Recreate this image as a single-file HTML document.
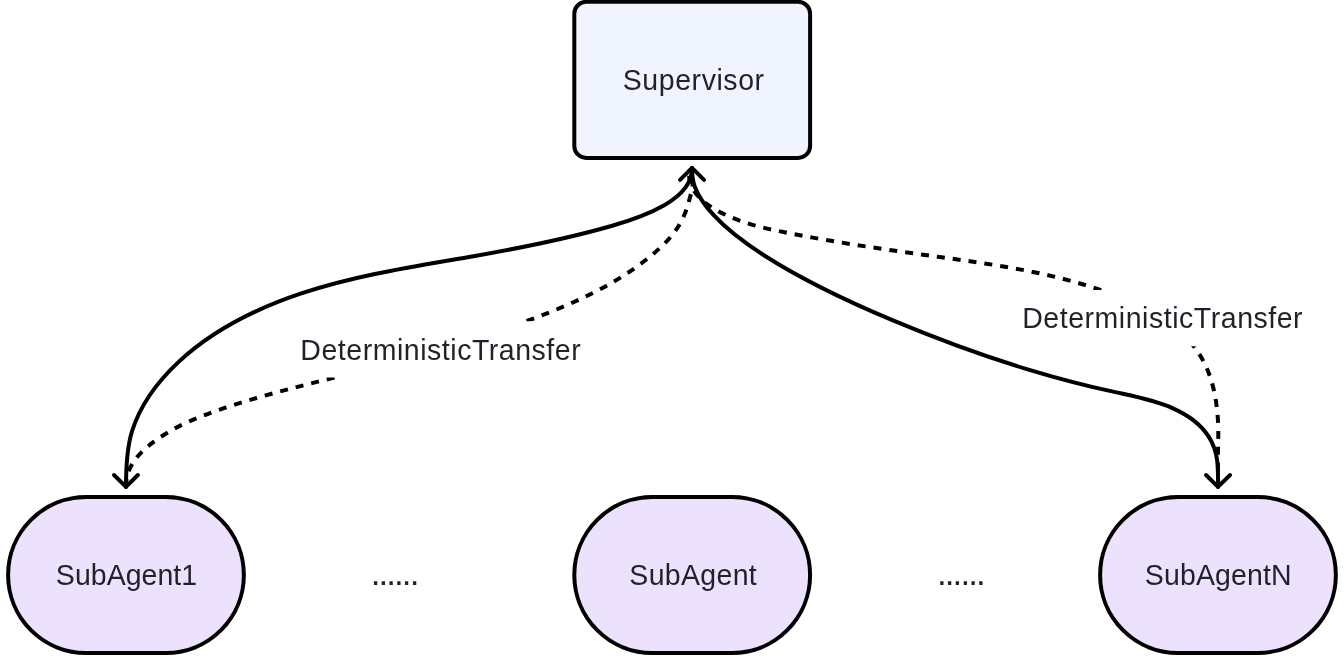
<!DOCTYPE html>
<html lang="en">
<head>
<meta charset="utf-8">
<title>Supervisor and SubAgents</title>
<style>
html,body{margin:0;padding:0;background:#fff;}
body{width:1344px;height:656px;overflow:hidden;position:relative;}
svg{position:absolute;left:0;top:0;display:block;will-change:transform;}
text{font-family:"Liberation Sans",sans-serif;font-size:28.5px;fill:#1f2329;text-anchor:middle;}
.dots{font-size:35px;letter-spacing:-1.95px;}
.ln{fill:none;stroke:#000;stroke-width:4;stroke-linecap:round;stroke-linejoin:round;}
.ds{fill:none;stroke:#000;stroke-width:4;stroke-dasharray:8 8;stroke-linecap:butt;}
.bx{stroke:#000;stroke-width:4;}
.sup{fill:#f0f4ff;}
.sub{fill:#ece2fe;}
.lbg{fill:#fff;}
</style>
</head>
<body>
<svg width="1344" height="656" viewBox="0 0 1344 656">
  <!-- dashed "DeterministicTransfer" connectors (SubAgent -> Supervisor) -->
  <g id="transfer-left">
    <path class="ds" style="stroke-dashoffset:0.06" d="M126.0 486.9 C125.7 466.7 139.0 452.8 153.9 441.7 C176.3 425.2 202.3 415.2 228.7 406.6 C272.6 392.3 317.5 381.9 362.1 370.6 C385.2 364.7 408.1 358.6 430.9 352.0"/>
    <path class="ds" style="stroke-dashoffset:11.38" d="M430.9 352.0 C463.4 342.7 495.7 332.4 527.6 320.7 C571.1 304.7 613.8 286.0 649.7 256.8 C664.1 245.2 677.4 231.8 684.5 214.6 C688.1 206.0 690.1 196.5 692.4 188.4 C693.0 182.3 692.0 177.0 692.0 167.9"/>
    <rect class="lbg" x="296" y="321.25" width="291" height="56.25"/>
    <rect class="lbg" x="338" y="375" width="14" height="4.5"/>
    <text transform="translate(440.75 360.1) scale(1 1.045)" style="letter-spacing:0.54px">DeterministicTransfer</text>
  </g>
  <g id="transfer-right">
    <path class="ds" style="stroke-dashoffset:15.99" d="M1218.0 486.9 C1218.4 480.3 1218.0 472.8 1217.9 465.6 C1217.7 453.7 1218.4 442.5 1218.3 430.9 C1218.0 407.6 1214.4 382.3 1203.9 362.1 C1193.2 341.4 1175.5 325.9 1154.7 313.8"/>
    <path class="ds" style="stroke-dashoffset:5.42" d="M1154.7 313.8 C1140.8 305.7 1125.5 299.0 1110.1 293.4 C1053.8 272.6 996.0 264.8 937.9 256.8 C886.8 249.7 835.5 242.5 784.8 232.3 C761.8 227.7 739.0 222.4 718.1 211.0 C707.7 205.4 697.8 198.2 692.3 188.0 C689.1 181.8 687.4 174.6 692.0 167.9"/>
    <rect class="lbg" x="1018" y="290" width="291" height="56.25"/>
    <text transform="translate(1162.7 327.6) scale(1 1.045)" style="letter-spacing:0.54px">DeterministicTransfer</text>
  </g>
  <!-- solid double-headed connectors (Supervisor <-> SubAgent) -->
  <g id="link-left">
    <path class="ln" d="M692.0 167.9 C692.0 175.1 689.5 182.0 685.4 187.7 C679.9 195.2 672.1 200.8 663.8 205.5 C647.4 214.9 629.5 220.8 611.4 226.0 C566.1 239.0 519.9 248.1 473.5 256.2 C415.5 266.3 357.2 274.8 301.3 293.4 C256.6 308.3 213.5 329.5 178.9 361.6 C158.2 380.9 140.6 404.0 132.1 431.0 C126.4 448.9 126.0 468.5 126.0 486.9"/>
    <path class="ln" d="M114.03 475.03 L125.97 486.9 L137.9 475.03"/>
  </g>
  <g id="link-right">
    <path class="ln" d="M692.0 167.9 C692.0 174.6 692.7 181.1 695.0 187.2 C698.9 197.3 705.6 206.3 713.0 214.4 C727.8 230.6 745.5 243.4 763.9 255.2 C804.3 281.1 848.0 301.5 892.3 320.1 C936.7 338.7 981.6 355.4 1027.6 369.3 C1056.8 378.2 1086.5 385.9 1116.4 392.4 C1135.6 396.6 1154.8 400.2 1172.9 408.3 C1186.9 414.5 1200.2 423.4 1208.4 436.2 C1213.1 443.5 1216.1 452.1 1217.2 460.8 C1218.3 469.4 1218.0 478.1 1218.0 486.9"/>
    <path class="ln" d="M1206.03 475.03 L1217.97 486.9 L1230.07 475.03"/>
  </g>
  <path class="ln" d="M680.05 179.9 L692 167.95 L704.05 179.9"/>
  <!-- nodes -->
  <g id="supervisor">
    <rect class="bx sup" x="574.3" y="1.75" width="235.8" height="156.15" rx="12" ry="12"/>
    <text transform="translate(693.7 89.7) scale(1 1.045)" style="letter-spacing:0.58px">Supervisor</text>
  </g>
  <g id="subagent1">
    <rect class="bx sub" x="8.1" y="497" width="235.75" height="156" rx="78" ry="78"/>
    <text transform="translate(126.5 585.2) scale(1 1.045)" style="letter-spacing:0.04px">SubAgent1</text>
  </g>
  <text class="dots" transform="translate(394.1 585.3)">......</text>
  <g id="subagent">
    <rect class="bx sub" x="574.3" y="497" width="235.8" height="156" rx="78" ry="78"/>
    <text transform="translate(693.2 585.2) scale(1 1.045)" style="letter-spacing:0.33px">SubAgent</text>
  </g>
  <text class="dots" transform="translate(960.4 585.3)">......</text>
  <g id="subagentN">
    <rect class="bx sub" x="1100.1" y="497" width="235.75" height="156" rx="78" ry="78"/>
    <text transform="translate(1218.3 585.2) scale(1 1.045)" style="letter-spacing:0.16px">SubAgentN</text>
  </g>
</svg>
</body>
</html>
